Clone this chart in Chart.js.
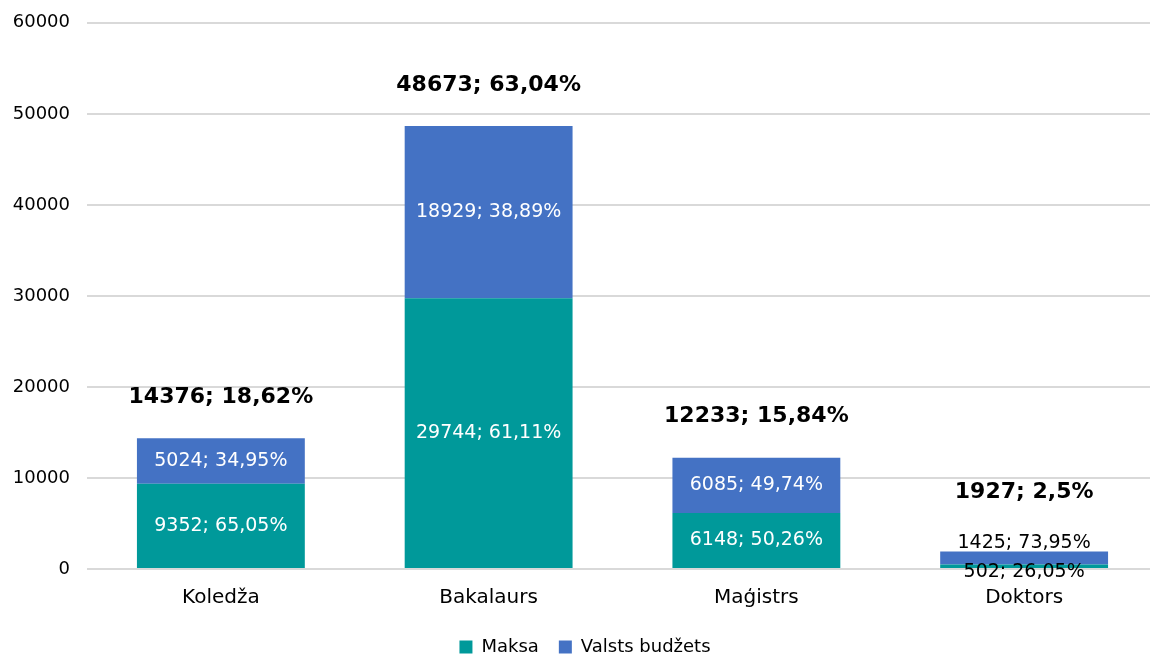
<!DOCTYPE html>
<html>
<head>
<meta charset="utf-8">
<script src="https://cdn.jsdelivr.net/npm/chart.js@4.4.0/dist/chart.umd.min.js"></script>
<style>
    html, body { margin: 0; padding: 0; background: #fff; overflow: hidden; }
    #wrap { width: 1158px; height: 671px; margin-top: -5px; }
</style>
</head>
<body>
<div id="wrap"><canvas id="studChart"></canvas></div>
<script>
// data
const categories = ['Koledža', 'Bakalaurs', 'Maģistrs', 'Doktors'];
const maksa = [9352, 29744, 6148, 502];
const maksaPct = [65.05, 61.11, 50.26, 26.05];
const budzets = [5024, 18929, 6085, 1425];
const budzetsPct = [34.95, 38.89, 49.74, 73.95];
const totals = [14376, 48673, 12233, 1927];
const totalsPct = [18.62, 63.04, 15.84, 2.5];

const pctText = v => String(v).replace('.', ',') + '%';

// labels in / above the bars
const labelPlugin = {
    id: 'barLabels',
    afterDatasetsDraw(chart) {
        const ctx = chart.ctx;
        const pcts = [maksaPct, budzetsPct];
        ctx.save();
        ctx.textAlign = 'center';
        ctx.textBaseline = 'middle';
        ctx.font = '19px "DejaVu Sans"';
        chart.data.datasets.forEach((ds, di) => {
            const meta = chart.getDatasetMeta(di);
            meta.data.forEach((bar, i) => {
                const top = Math.min(bar.y, bar.base);
                const bottom = Math.max(bar.y, bar.base);
                const h = bottom - top;
                const txt = ds.data[i] + '; ' + pctText(pcts[di][i]);
                let y = (top + bottom) / 2;
                ctx.fillStyle = '#ffffff';
                if (h < 30) {
                    // too thin, put the text outside the bar
                    ctx.fillStyle = '#000000';
                    y = di === 0 ? bottom + 4 : top - 8;
                }
                ctx.fillText(txt, bar.x, y);
            });
        });
        // totals
        const topMeta = chart.getDatasetMeta(1);
        ctx.font = 'bold 22px "DejaVu Sans"';
        ctx.fillStyle = '#000000';
        topMeta.data.forEach((bar, i) => {
            const stackH = chart.scales.y.getPixelForValue(0) - bar.y;
            const off = stackH < 30 ? 59 : 41;
            ctx.fillText(totals[i] + '; ' + pctText(totalsPct[i]), bar.x, bar.y - off);
        });
        ctx.restore();
    }
};

const ctx = document.getElementById('studChart').getContext('2d');
new Chart(ctx, {
    type: 'bar',
    data: {
        labels: categories,
        datasets: [
            {
                label: 'Maksa',
                data: maksa,
                backgroundColor: '#00999A',
                categoryPercentage: 1,
                barPercentage: 0.627
            },
            {
                label: 'Valsts budžets',
                data: budzets,
                backgroundColor: '#4472C4',
                categoryPercentage: 1,
                barPercentage: 0.627
            }
        ]
    },
    options: {
        responsive: true,
        maintainAspectRatio: false,
        animation: false,
        layout: {
            padding: { top: 3, left: 12, right: 0, bottom: 0 }
        },
        plugins: {
            legend: {
                position: 'bottom',
                labels: {
                    color: '#000',
                    font: { family: 'DejaVu Sans', size: 18 },
                    boxWidth: 13,
                    boxHeight: 13,
                    padding: 20
                }
            },
            tooltip: { enabled: false }
        },
        scales: {
            x: {
                stacked: true,
                grid: { display: false },
                border: { display: false },
                ticks: {
                    color: '#000',
                    font: { family: 'DejaVu Sans', size: 20, lineHeight: 0.45 },
                    padding: 16
                }
            },
            y: {
                stacked: true,
                min: 0,
                max: 60000,
                grid: { color: '#d9d9d9', lineWidth: 2, drawTicks: false },
                border: { display: false },
                afterFit: scale => { scale.width = 75; },
                ticks: {
                    stepSize: 10000,
                    color: '#000',
                    font: { family: 'DejaVu Sans', size: 18 },
                    padding: 17,
                    callback: v => String(v)
                }
            }
        }
    },
    plugins: [labelPlugin]
});
</script>
</body>
</html>
